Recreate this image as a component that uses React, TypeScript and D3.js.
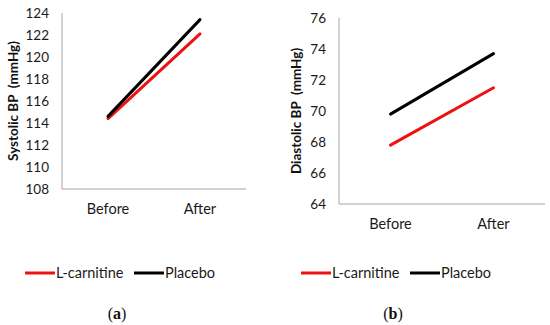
import React from 'react';
import * as d3 from 'd3';

const categories = ['Before', 'After'];
const seriesNames = ['L-carnitine', 'Placebo'];
const seriesColors = ['#ee1111', '#000000'];

const systolicCarnitine = [114.4, 122.1];
const systolicPlacebo = [114.6, 123.4];
const systolicTicks = [108, 110, 112, 114, 116, 118, 120, 122, 124];

const diastolicCarnitine = [67.8, 71.5];
const diastolicPlacebo = [69.8, 73.7];
const diastolicTicks = [64, 66, 68, 70, 72, 74, 76];

const FONT = 'Lato, "Open Sans", sans-serif';

type PanelProps = {
  left: number;
  right: number;
  top: number;
  bottom: number;
  ticks: number[];
  series: number[][];
  title: string;
  titleX: number;
  legendX: number;
  label: string;
  labelX: number;
};

function Panel(props: PanelProps) {
  const { left, right, top, bottom, ticks, series, title, titleX, legendX, label, labelX } = props;
  const x = d3.scaleBand().domain(categories).range([left, right]);
  const y = d3
    .scaleLinear()
    .domain([ticks[0], ticks[ticks.length - 1]])
    .range([bottom, top]);
  const line = d3
    .line<number>()
    .x((_, i) => x(categories[i])! + x.bandwidth() / 2)
    .y((d) => y(d));

  return (
    <g>
      <line x1={left} x2={left} y1={top} y2={bottom} stroke="#a6a6a6" strokeWidth={1} />
      <line x1={left} x2={right} y1={bottom} y2={bottom} stroke="#a6a6a6" strokeWidth={1} />
      {ticks.map((t) => (
        <text
          key={t}
          x={left - 13}
          y={y(t)}
          dy="0.36em"
          textAnchor="end"
          fontSize={13.5}
          fill="#1a1a1a"
        >
          {t}
        </text>
      ))}
      {categories.map((c) => (
        <text
          key={c}
          x={x(c)! + x.bandwidth() / 2}
          y={bottom + 20}
          dy="0.36em"
          textAnchor="middle"
          fontSize={14.5}
          fill="#1a1a1a"
        >
          {c}
        </text>
      ))}
      <text
        transform={`translate(${titleX},${(top + bottom) / 2}) rotate(-90)`}
        textAnchor="middle"
        dy="0.36em"
        fontSize={13.5}
        fontWeight="bold"
        fill="#111"
        style={{ whiteSpace: 'pre' }}
      >
        {title}
      </text>
      {series.map((s, i) => (
        <path
          key={i}
          d={line(s) ?? ''}
          fill="none"
          stroke={seriesColors[i]}
          strokeWidth={3}
          strokeLinecap="round"
        />
      ))}
      {seriesNames.map((n, i) => {
        const lx = legendX + i * 109;
        return (
          <g key={n}>
            <line x1={lx} x2={lx + 30} y1={273} y2={273} stroke={seriesColors[i]} strokeWidth={3} />
            <text x={lx + 31} y={273} dy="0.36em" fontSize={14.5} fill="#1a1a1a">
              {n}
            </text>
          </g>
        );
      })}
      <text
        x={labelX}
        y={313}
        dy="0.36em"
        textAnchor="middle"
        fontFamily='"Liberation Serif", serif'
        fontSize={16}
        fill="#111"
      >
        (<tspan fontWeight="bold">{label}</tspan>)
      </text>
    </g>
  );
}

export default function App() {
  return (
    <svg
      width={550}
      height={325}
      style={{ position: 'absolute', left: 0, top: 0, background: '#fff' }}
      fontFamily={FONT}
    >
      <rect width={550} height={325} fill="#fff" />
      <Panel
        left={62}
        right={246}
        top={13}
        bottom={189}
        ticks={systolicTicks}
        series={[systolicCarnitine, systolicPlacebo]}
        title="Systolic BP  (mmHg)"
        titleX={13}
        legendX={25}
        label="a"
        labelX={117}
      />
      <Panel
        left={339}
        right={545}
        top={18}
        bottom={204}
        ticks={diastolicTicks}
        series={[diastolicCarnitine, diastolicPlacebo]}
        title="Diastolic BP  (mmHg)"
        titleX={296}
        legendX={301}
        label="b"
        labelX={393}
      />
    </svg>
  );
}
